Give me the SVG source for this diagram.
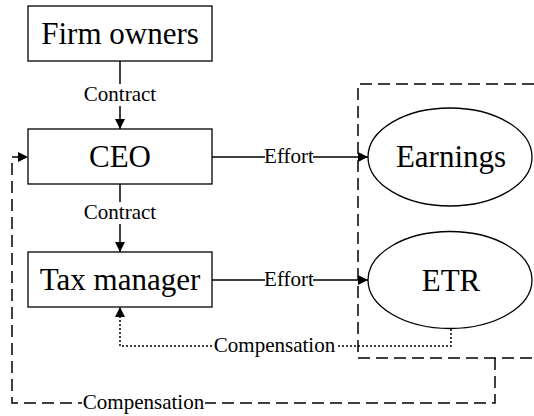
<svg xmlns="http://www.w3.org/2000/svg" width="534" height="416" viewBox="0 0 534 416">
  <defs>
    <marker id="arrow" viewBox="0 0 10 10" refX="10" refY="5" markerWidth="10" markerHeight="10" markerUnits="userSpaceOnUse" orient="auto">
      <path d="M0,0 L10,5 L0,10 Z" fill="#000"/>
    </marker>
    <style>
      .box { fill: #fff; stroke: #000; stroke-width: 1.3; }
      .big { font-family: "Liberation Serif", "Times New Roman", serif; font-size: 31px; text-anchor: middle; fill: #000; }
      .lbl { font-family: "Liberation Serif", "Times New Roman", serif; font-size: 21px; text-anchor: middle; fill: #000; }
      .solid { fill: none; stroke: #000; stroke-width: 1.5; }
      .dash { fill: none; stroke: #000; stroke-width: 1.5; stroke-dasharray: 12 6; }
      .dot { fill: none; stroke: #000; stroke-width: 1.5; stroke-dasharray: 2 2; }
      .bg { fill: #fff; }
    </style>
  </defs>

  <rect width="534" height="416" fill="#fff"/>

  <!-- boundary around the outcomes -->
  <g id="outcome-boundary">
    <path class="dash" d="M534,84 H358 V358 H534"/>
  </g>

  <g id="connectors">
    <!-- contracts -->
    <line class="solid" x1="120" y1="61" x2="120" y2="129" marker-end="url(#arrow)"/>
    <rect class="bg" x="82" y="84" width="76" height="22"/>
    <text class="lbl" x="120" y="101">Contract</text>

    <line class="solid" x1="120" y1="184" x2="120" y2="252" marker-end="url(#arrow)"/>
    <rect class="bg" x="82" y="202" width="76" height="22"/>
    <text class="lbl" x="120" y="219">Contract</text>

    <!-- effort -->
    <line class="solid" x1="212" y1="157" x2="368" y2="157" marker-end="url(#arrow)"/>
    <rect class="bg" x="265" y="147" width="48" height="20"/>
    <text class="lbl" x="289" y="163">Effort</text>

    <line class="solid" x1="212" y1="280" x2="368" y2="280" marker-end="url(#arrow)"/>
    <rect class="bg" x="265" y="270" width="48" height="20"/>
    <text class="lbl" x="289" y="286">Effort</text>

    <!-- compensation to tax manager -->
    <path class="dot" d="M451,329 V346 H120 V307" marker-end="url(#arrow)"/>
    <rect class="bg" x="213" y="336" width="123" height="20"/>
    <text class="lbl" x="274.5" y="352">Compensation</text>

    <!-- compensation to CEO -->
    <path class="dash" d="M495,358 V403 H12 V157 H28" marker-end="url(#arrow)"/>
    <rect class="bg" x="82" y="393" width="123" height="20"/>
    <text class="lbl" x="143.5" y="409">Compensation</text>
  </g>

  <g id="firm-owners">
    <rect class="box" x="28" y="6" width="184" height="55"/>
    <text class="big" x="120" y="44">Firm owners</text>
  </g>

  <g id="ceo">
    <rect class="box" x="28" y="129" width="184" height="55"/>
    <text class="big" x="120" y="167">CEO</text>
  </g>

  <g id="tax-manager">
    <rect class="box" x="28" y="252" width="184" height="55"/>
    <text class="big" x="120" y="290">Tax manager</text>
  </g>

  <g id="earnings">
    <ellipse class="box" cx="450" cy="157" rx="82" ry="49"/>
    <text class="big" x="451" y="167">Earnings</text>
  </g>

  <g id="etr">
    <ellipse class="box" cx="450" cy="280" rx="82" ry="48.5"/>
    <text class="big" x="451" y="291">ETR</text>
  </g>
</svg>
